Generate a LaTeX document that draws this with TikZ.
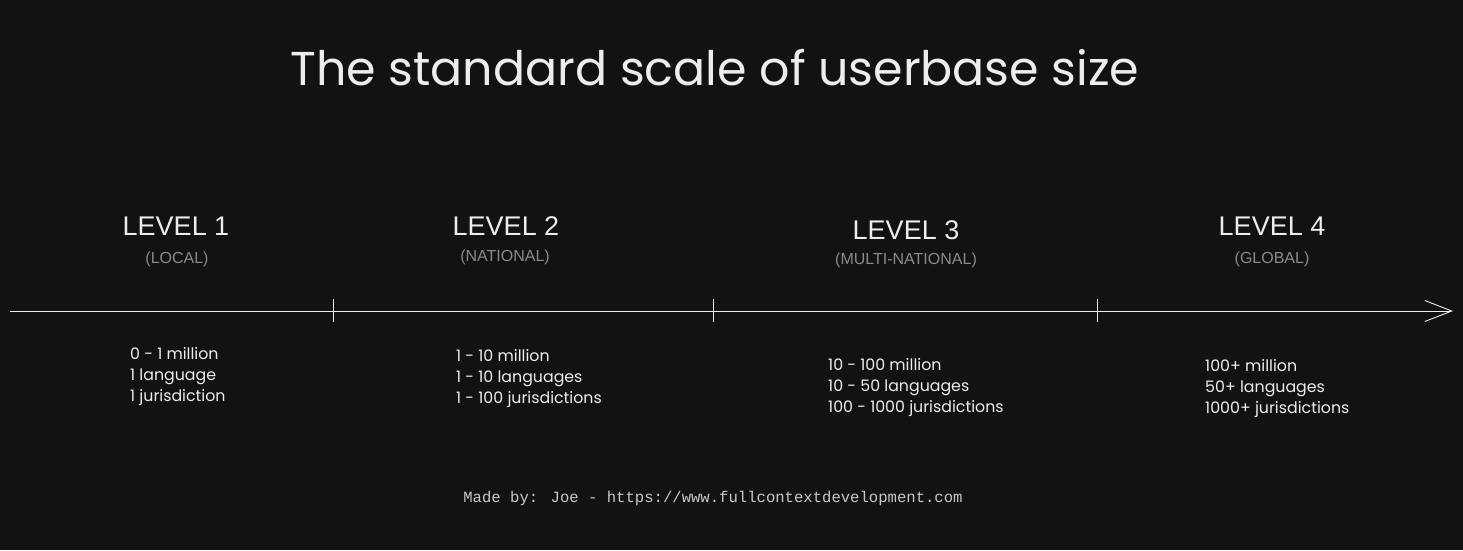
\documentclass[tikz,border=0pt]{standalone}
\usepackage{fontspec}
\setmainfont{Liberation Sans}
\newfontfamily\hand{Poppins}
\newfontfamily\monof{Liberation Mono}
\usetikzlibrary{arrows.meta}
\definecolor{bg}{HTML}{121212}
\definecolor{fg}{HTML}{EDEDED}
\definecolor{sub}{HTML}{8A8A8A}
\definecolor{foot}{HTML}{C8C8C8}
\begin{document}
\begin{tikzpicture}[x=1pt,y=-1pt,
  level/.style={text=fg,font=\fontsize{27}{30}\selectfont,inner sep=0pt},
  subl/.style={text=sub,font=\fontsize{16}{18}\selectfont,inner sep=0pt},
  detail/.style={text=fg,font=\hand\fontsize{15.8}{21}\selectfont,inner sep=0pt,anchor=north west,align=left},
  tick/.style={draw=fg,line width=0.8pt},
  axis/.style={draw=fg,line width=0.9pt,-{Straight Barb[length=27pt,width=21pt,line width=0.9pt]}}]
\fill[bg] (0,0) rectangle (1463,550);
\useasboundingbox (0,0) rectangle (1463,550);
\node[text=fg,font=\hand\fontsize{47.5}{52}\selectfont,inner sep=0pt] (title) at (715,68) {The standard scale of userbase size};
\node[level] (l1) at (176,226) {LEVEL 1};
\node[subl] (s1) at (177,259) {(LOCAL)};
\node[level] (l2) at (506,226) {LEVEL 2};
\node[subl] (s2) at (505,257) {(NATIONAL)};
\node[level] (l3) at (906,230) {LEVEL 3};
\node[subl] (s3) at (906,260) {(MULTI-NATIONAL)};
\node[level] (l4) at (1272,226) {LEVEL 4};
\node[subl] (s4) at (1272,259) {(GLOBAL)};
\coordinate (a0) at (10,311);
\coordinate (a1) at (1453,311);
\draw[axis] (a0) -- (a1);
\coordinate (t1a) at (333,299); \coordinate (t1b) at (333,322);
\coordinate (t2a) at (713,299); \coordinate (t2b) at (713,322);
\coordinate (t3a) at (1097,299); \coordinate (t3b) at (1097,322);
\draw[tick] (t1a) -- (t1b);
\draw[tick] (t2a) -- (t2b);
\draw[tick] (t3a) -- (t3b);
\node[detail] (d1) at (130,347) {0 - 1 million\\1 language\\1 jurisdiction};
\node[detail] (d2) at (456,349) {1 - 10 million\\1 - 10 languages\\1 - 100 jurisdictions};
\node[detail] (d3) at (828,358) {10 - 100 million\\10 - 50 languages\\100 - 1000 jurisdictions};
\node[detail] (d4) at (1205,359) {100+ million\\50+ languages\\1000+ jurisdictions};
\node[text=foot,font=\monof\fontsize{15.6}{18}\selectfont,inner sep=0pt] (footer) at (713,498) {Made by: Joe - https://www.fullcontextdevelopment.com};
\end{tikzpicture}
\end{document}
